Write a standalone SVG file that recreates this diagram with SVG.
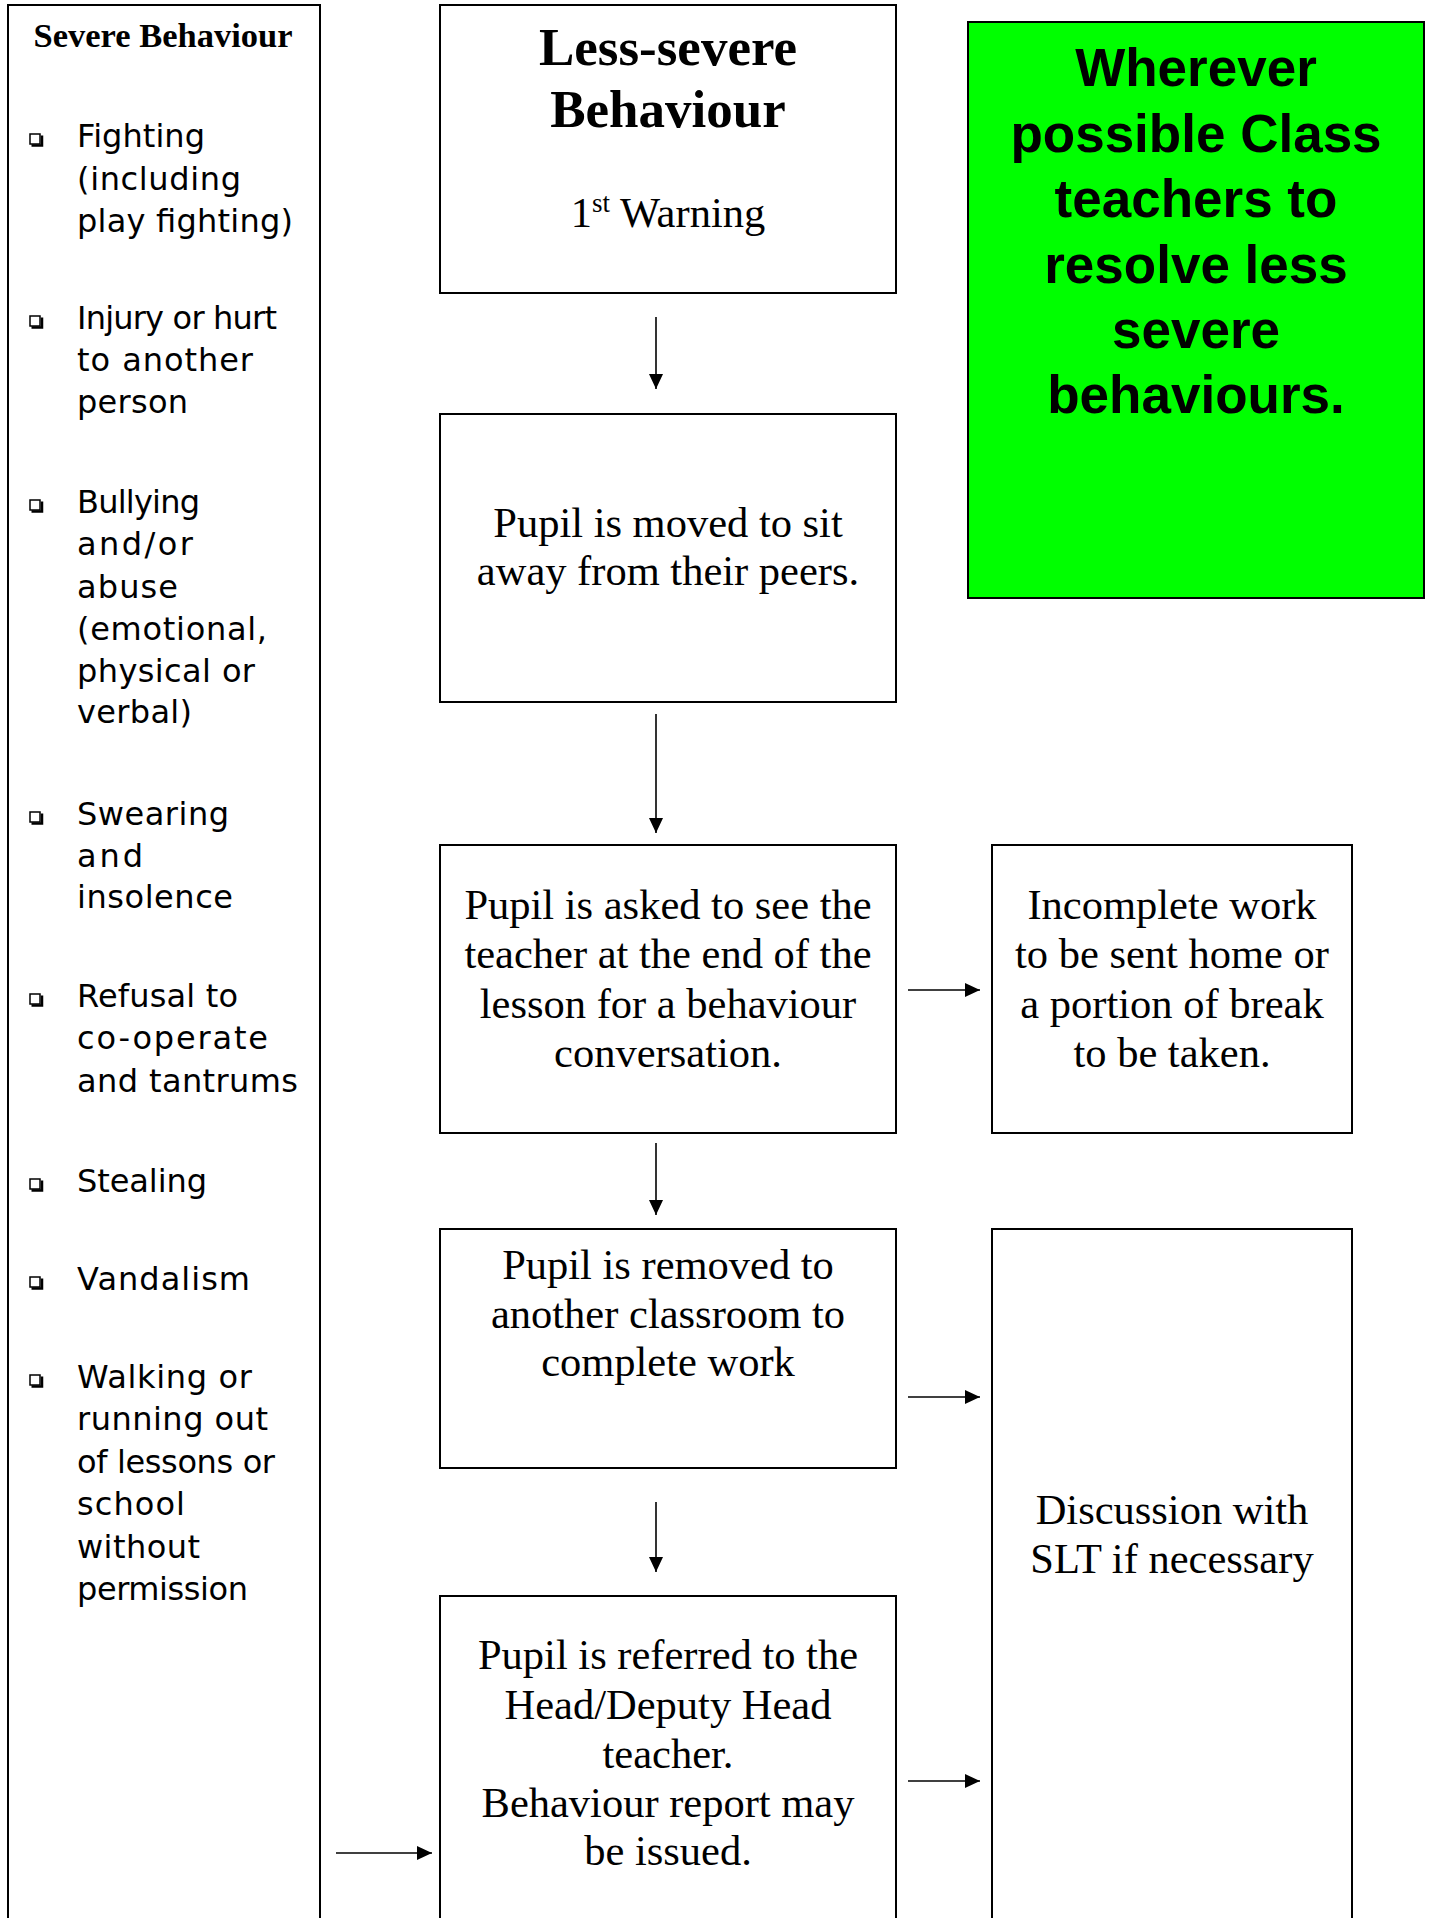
<svg xmlns="http://www.w3.org/2000/svg" width="1430" height="1918" viewBox="0 0 1430 1918">
<defs>
<marker id="ah" markerUnits="userSpaceOnUse" markerWidth="15" markerHeight="14" refX="15" refY="7" orient="auto">
<path d="M0,0 L15,7 L0,14 Z" fill="#000"/>
</marker>
<g id="bul">
<rect x="30" y="-13" width="10" height="10" fill="#fff" stroke="#000" stroke-width="1.5"/>
<polyline points="31.5,-1.5 42,-1.5 42,-11.5" fill="none" stroke="#000" stroke-width="2.5"/>
</g>
</defs>
<style>
.box{fill:#fff;stroke:#000;stroke-width:2}
.green{fill:#00FF00;stroke:#000;stroke-width:2}
.t{font-family:"Liberation Serif","Times New Roman",serif;font-size:42.5px;fill:#000;text-anchor:middle}
.tb{font-family:"Liberation Serif","Times New Roman",serif;font-weight:bold;fill:#000;text-anchor:middle}
.li{font-family:"DejaVu Sans",sans-serif;font-size:32px;fill:#000}
.g{font-family:"Liberation Sans",Arial,sans-serif;font-weight:bold;font-size:53px;fill:#000;text-anchor:middle}
.c{stroke:#000;stroke-width:1.6;fill:none;marker-end:url(#ah)}
</style>
<rect width="1430" height="1918" fill="#fff"/>

<g id="severe">
<rect class="box" x="8" y="5" width="312" height="1930"/>
<text class="tb" x="163" y="47" font-size="34" textLength="259" lengthAdjust="spacingAndGlyphs">Severe Behaviour</text>
<use href="#bul" y="147"/>
<text class="li" x="77" y="147" textLength="128">Fighting</text>
<text class="li" x="77" y="190" textLength="164">(including</text>
<text class="li" x="77" y="232" textLength="216">play fighting)</text>
<use href="#bul" y="329"/>
<text class="li" x="77" y="329" textLength="200">Injury or hurt</text>
<text class="li" x="77" y="371" textLength="176">to another</text>
<text class="li" x="77" y="413" textLength="111">person</text>
<use href="#bul" y="513"/>
<text class="li" x="77" y="513" textLength="123">Bullying</text>
<text class="li" x="77" y="555" textLength="116">and/or</text>
<text class="li" x="77" y="598" textLength="101">abuse</text>
<text class="li" x="77" y="640" textLength="190">(emotional,</text>
<text class="li" x="77" y="682" textLength="178">physical or</text>
<text class="li" x="77" y="723" textLength="115">verbal)</text>
<use href="#bul" y="825"/>
<text class="li" x="77" y="825" textLength="152">Swearing</text>
<text class="li" x="77" y="867" textLength="66">and</text>
<text class="li" x="77" y="908" textLength="156">insolence</text>
<use href="#bul" y="1007"/>
<text class="li" x="77" y="1007" textLength="161">Refusal to</text>
<text class="li" x="77" y="1049" textLength="191">co-operate</text>
<text class="li" x="77" y="1092" textLength="221">and tantrums</text>
<use href="#bul" y="1192"/>
<text class="li" x="77" y="1192" textLength="130">Stealing</text>
<use href="#bul" y="1290"/>
<text class="li" x="77" y="1290" textLength="173">Vandalism</text>
<use href="#bul" y="1388"/>
<text class="li" x="77" y="1388" textLength="175">Walking or</text>
<text class="li" x="77" y="1430" textLength="191">running out</text>
<text class="li" x="77" y="1473" textLength="198">of lessons or</text>
<text class="li" x="77" y="1515" textLength="108">school</text>
<text class="li" x="77" y="1558" textLength="123">without</text>
<text class="li" x="77" y="1600" textLength="171">permission</text>
</g>

<g id="less-severe">
<rect class="box" x="440" y="5" width="456" height="288"/>
<text class="tb" x="668" y="65" font-size="53">Less-severe</text>
<text class="tb" x="668" y="127" font-size="53">Behaviour</text>
<text class="t" x="668" y="227">1<tspan font-size="27" dy="-15">st</tspan><tspan dy="15"> Warning</tspan></text>
</g>

<g id="note">
<rect class="green" x="968" y="22" width="456" height="576"/>
<text class="g" x="1196" y="86">Wherever</text>
<text class="g" x="1196" y="152">possible Class</text>
<text class="g" x="1196" y="217">teachers to</text>
<text class="g" x="1196" y="283">resolve less</text>
<text class="g" x="1196" y="348">severe</text>
<text class="g" x="1196" y="413">behaviours.</text>
</g>

<g id="moved">
<rect class="box" x="440" y="414" width="456" height="288"/>
<text class="t" x="668" y="537">Pupil is moved to sit</text>
<text class="t" x="668" y="585">away from their peers.</text>
</g>

<g id="asked">
<rect class="box" x="440" y="845" width="456" height="288"/>
<text class="t" x="668" y="919">Pupil is asked to see the</text>
<text class="t" x="668" y="968">teacher at the end of the</text>
<text class="t" x="668" y="1018">lesson for a behaviour</text>
<text class="t" x="668" y="1067">conversation.</text>
</g>

<g id="incomplete">
<rect class="box" x="992" y="845" width="360" height="288"/>
<text class="t" x="1172" y="919">Incomplete work</text>
<text class="t" x="1172" y="968">to be sent home or</text>
<text class="t" x="1172" y="1018">a portion of break</text>
<text class="t" x="1172" y="1067">to be taken.</text>
</g>

<g id="removed">
<rect class="box" x="440" y="1229" width="456" height="239"/>
<text class="t" x="668" y="1279">Pupil is removed to</text>
<text class="t" x="668" y="1328">another classroom to</text>
<text class="t" x="668" y="1376">complete work</text>
</g>

<g id="discussion">
<rect class="box" x="992" y="1229" width="360" height="720"/>
<text class="t" x="1172" y="1524">Discussion with</text>
<text class="t" x="1172" y="1573">SLT if necessary</text>
</g>

<g id="referred">
<rect class="box" x="440" y="1596" width="456" height="360"/>
<text class="t" x="668" y="1669">Pupil is referred to the</text>
<text class="t" x="668" y="1719">Head/Deputy Head</text>
<text class="t" x="668" y="1768">teacher.</text>
<text class="t" x="668" y="1817">Behaviour report may</text>
<text class="t" x="668" y="1865">be issued.</text>
</g>

<g id="connectors">
<line class="c" x1="656" y1="317" x2="656" y2="389"/>
<line class="c" x1="656" y1="714" x2="656" y2="833"/>
<line class="c" x1="656" y1="1143" x2="656" y2="1215"/>
<line class="c" x1="656" y1="1502" x2="656" y2="1572"/>
<line class="c" x1="908" y1="990" x2="980" y2="990"/>
<line class="c" x1="908" y1="1397" x2="980" y2="1397"/>
<line class="c" x1="908" y1="1781" x2="980" y2="1781"/>
<line class="c" x1="336" y1="1853" x2="432" y2="1853"/>
</g>
</svg>
